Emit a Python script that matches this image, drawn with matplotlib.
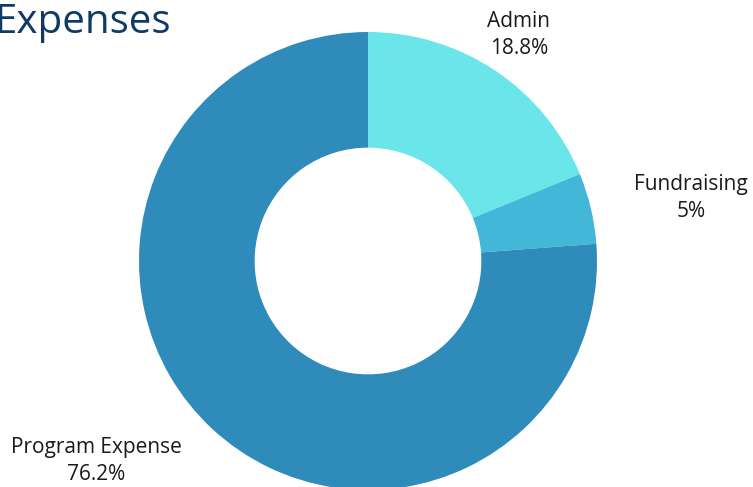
import matplotlib
matplotlib.use("Agg")
import matplotlib.pyplot as plt

categories = ["Admin", "Fundraising", "Program Expense"]
values = [18.8, 5.0, 76.2]
pct_labels = ["18.8%", "5%", "76.2%"]
colors = ["#6ae5e9", "#42b7d7", "#2e8bba"]
title = "Expenses"

plt.rcParams['font.family'] = ['Open Sans', 'DejaVu Sans']

W, H = 753, 487
fig = plt.figure(figsize=(W / 100, H / 100), dpi=100)
ax = fig.add_axes([0, 0, 1, 1])

cx, cy, R = 368, H - 261, 229
ax.pie(values, colors=colors, startangle=90, counterclock=False,
       center=(cx, cy), radius=R, frame=True,
       wedgeprops=dict(width=R * 0.505, linewidth=0))
ax.set_xlim(0, W)
ax.set_ylim(0, H)
ax.set_aspect('equal')
ax.axis('off')

label_pos = [(519, H - 35), (691, H - 198), (96, H - 461)]
for cat, pct, (x, y) in zip(categories, pct_labels, label_pos):
    ax.text(x, y, f"{cat}\n{pct}", ha='center', va='center', fontsize=15,
            color='#1a1a1a', linespacing=1.42)

ax.text(-6, H - 33, title, ha='left', va='baseline', fontsize=29,
        color='#0f3a66')

fig.savefig("out.png", dpi=100)
